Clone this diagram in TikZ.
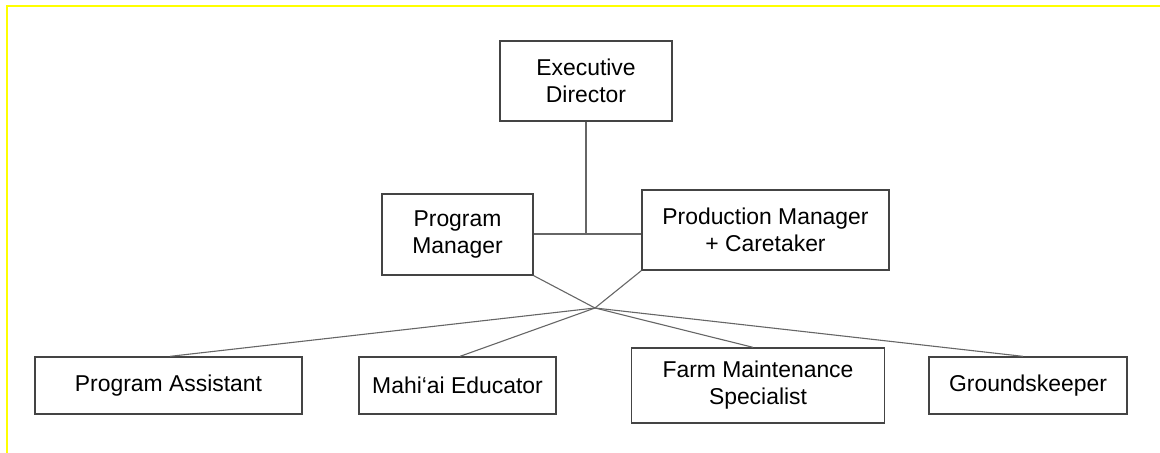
\documentclass[tikz,border=0pt]{standalone}
\usepackage{fontspec}
\setmainfont{Liberation Sans}
\definecolor{boxline}{HTML}{444444}
\definecolor{conn}{HTML}{666666}
\definecolor{frameyellow}{HTML}{FFFF00}
\tikzset{
  orgbox/.style={draw=boxline, line width=0.65pt, rectangle, align=center, inner sep=0pt,
    font=\fontsize{11.45pt}{13.5pt}\selectfont, text=black},
  link/.style={draw=conn, line width=0.55pt},
  frameline/.style={draw=frameyellow, line width=1.4pt}
}
\begin{document}
\begin{tikzpicture}[x=0.5pt, y=-0.5pt]
\useasboundingbox (0,0) rectangle (1160,453);
\draw[frameline] (7,453) -- (7,6) -- (1160,6);

\node[orgbox, minimum width=86pt, minimum height=40pt] (ED) at (586,81) {Executive\\Director};
\node[orgbox, minimum width=75.5pt, minimum height=40.5pt] (PM) at (457.5,234.5) {Program\\Manager};
\node[orgbox, minimum width=123.5pt, minimum height=40pt] (PMC) at (765.5,230) {Production Manager\\+ Caretaker};

\node[orgbox, minimum width=133.5pt, minimum height=28.5pt] (PA) at (168.5,385.5) {Program Assistant};
\node[orgbox, minimum width=98.5pt, minimum height=28.5pt] (MA) at (457.5,385.5) {Mahi‘ai Educator};
\node[orgbox, minimum width=126.5pt, minimum height=37.5pt] (FMS) at (758,385.5) {Farm Maintenance\\Specialist};
\node[orgbox, minimum width=99pt, minimum height=28.5pt] (GK) at (1028,385.5) {Groundskeeper};

\coordinate (J) at (586,234);
\coordinate (X) at (595,308);

\draw[link] (ED.south) -- (J);
\draw[link] (J -| PM.east) -- (J -| PMC.west);
\draw[link] (PM.south east) -- (X);
\draw[link] (PMC.south west) -- (X);
\draw[link] (X) -- ([xshift=0.75pt]PA.north);
\draw[link] (X) -- ([xshift=1.25pt]MA.north);
\draw[link] (X) -- ([xshift=-2.5pt]FMS.north);
\draw[link] (X) -- ([xshift=-2.5pt]GK.north);
\end{tikzpicture}
\end{document}
